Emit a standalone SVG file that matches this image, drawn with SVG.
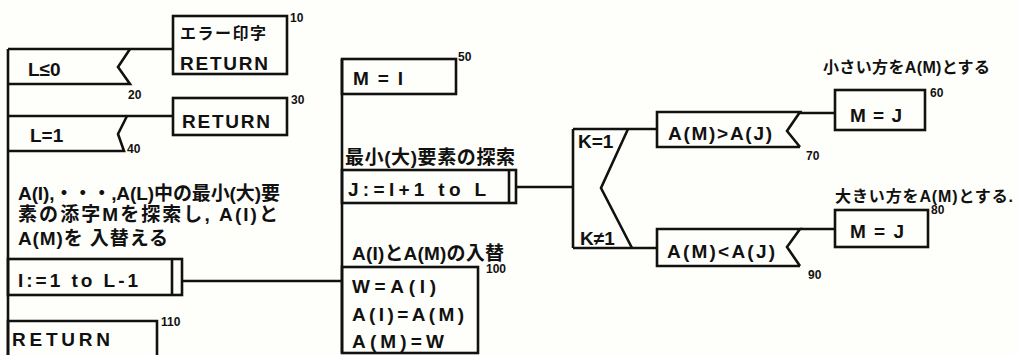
<svg xmlns="http://www.w3.org/2000/svg" width="1018" height="355" viewBox="0 0 1018 355">
<style>
.ln{fill:none;stroke:#111;stroke-width:2.6;stroke-linejoin:miter}
.bx{fill:none;stroke:#111;stroke-width:2.6}
text{font-family:"Liberation Sans","Noto Sans CJK JP",sans-serif;fill:#111}
.t{font-size:19px}
.n{font-size:12px;font-weight:bold}
.s{font-size:16px}
.b{font-weight:bold}
</style>
<rect width="1018" height="355" fill="#fefefa"/>
<g id="connectors">
<line class="ln" x1="8" y1="49" x2="8" y2="355"/>
<line class="ln" x1="8" y1="49" x2="173" y2="49"/>
<line class="ln" x1="8" y1="116" x2="173" y2="116"/>
<line class="ln" x1="182" y1="281" x2="342" y2="281"/>
<line class="ln" x1="342" y1="59" x2="342" y2="353"/>
<line class="ln" x1="516" y1="187" x2="573" y2="187"/>
<line class="ln" x1="573" y1="129" x2="573" y2="248"/>
<line class="ln" x1="573" y1="129" x2="657" y2="129"/>
<line class="ln" x1="573" y1="248" x2="657" y2="248"/>
<line class="ln" x1="800" y1="113" x2="835" y2="113"/>
<line class="ln" x1="800" y1="229" x2="835" y2="229"/>
</g>
<g id="n20">
<polyline class="ln" points="8,84 130,84 118,67 130,49"/>
<text class="t b" x="28" y="76">L≤0</text>
<text class="n" x="128" y="99">20</text>
</g>
<g id="n10">
<rect class="bx" x="173" y="16" width="114" height="58"/>
<text class="s b" x="180" y="39" textLength="86">エラー印字</text>
<text class="t b" x="180" y="70" textLength="88" font-size="20">RETURN</text>
<text class="n" x="290" y="22">10</text>
</g>
<g id="n40">
<polyline class="ln" points="8,151 124,151 118,134 127,116"/>
<text class="t b" x="30" y="142">L=1</text>
<text class="n" x="127" y="153">40</text>
</g>
<g id="n30">
<rect class="bx" x="173" y="98" width="114" height="37"/>
<text class="t b" x="182" y="128" textLength="88" font-size="20">RETURN</text>
<text class="n" x="291" y="104">30</text>
</g>
<g id="comment">
<text class="t b" x="18" y="200" textLength="262">A(I),・・・,A(L)中の最小(大)要</text>
<text class="t b" x="18" y="221" textLength="260">素の添字Mを探索し, A(I)と</text>
<text class="t b" x="18" y="245" textLength="150">A(M)を 入替える</text>
</g>
<g id="loopI">
<rect class="bx" x="8" y="259" width="174" height="36"/>
<line class="ln" x1="172" y1="259" x2="172" y2="295"/>
<text class="t b" x="18" y="287" textLength="120">I:=1 to L-1</text>
</g>
<g id="n110">
<polyline class="ln" points="8,356 8,321 157,321 157,356"/>
<text class="t b" x="12" y="346" textLength="98">RETURN</text>
<text class="n" x="161" y="326">110</text>
</g>
<g id="n50">
<rect class="bx" x="342" y="59" width="114" height="35"/>
<text class="t b" x="353" y="85" textLength="50">M=I</text>
<text class="n" x="458" y="61">50</text>
</g>
<g id="loopJ">
<text class="t b" x="345" y="164" textLength="170" font-size="20">最小(大)要素の探索</text>
<rect class="bx" x="342" y="170" width="174" height="33"/>
<line class="ln" x1="509" y1="170" x2="509" y2="203"/>
<text class="t b" x="348" y="196" textLength="138">J:=I+1 to L</text>
</g>
<g id="n100">
<text class="t b" x="352" y="260" textLength="152">A(I)とA(M)の入替</text>
<rect class="bx" x="342" y="267" width="136" height="86"/>
<text class="n" x="486" y="273">100</text>
<text class="t b" x="352" y="293" textLength="84">W=A(I)</text>
<text class="t b" x="352" y="321" textLength="112">A(I)=A(M)</text>
<text class="t b" x="352" y="348" textLength="92">A(M)=W</text>
</g>
<g id="decision">
<polyline class="ln" points="628,129 601,188 632,248"/>
<text class="t b" x="578" y="148" font-size="17">K=1</text>
<text class="t b" x="580" y="245" font-size="17">K≠1</text>
</g>
<g id="n70">
<polyline class="ln" points="800,147 657,147 657,112 800,112 787,131 800,147"/>
<text class="t b" x="668" y="140" textLength="104">A(M)&gt;A(J)</text>
<text class="n" x="806" y="160">70</text>
</g>
<g id="n90">
<polyline class="ln" points="800,266 657,266 657,229 800,229 787,247 800,266"/>
<text class="t b" x="667" y="258" textLength="108">A(M)&lt;A(J)</text>
<text class="n" x="808" y="279">90</text>
</g>
<g id="n60">
<text class="s b" x="823" y="73" textLength="167">小さい方をA(M)とする</text>
<rect class="bx" x="835" y="90" width="90" height="40"/>
<text class="t b" x="850" y="122" font-size="22" textLength="52">M=J</text>
<text class="n" x="930" y="97">60</text>
</g>
<g id="n80">
<text class="s b" x="835" y="202" textLength="178">大きい方をA(M)とする.</text>
<rect class="bx" x="835" y="210" width="93" height="37"/>
<text class="t b" x="850" y="238" font-size="22" textLength="54">M=J</text>
<text class="n" x="931" y="214">80</text>
</g>
</svg>
